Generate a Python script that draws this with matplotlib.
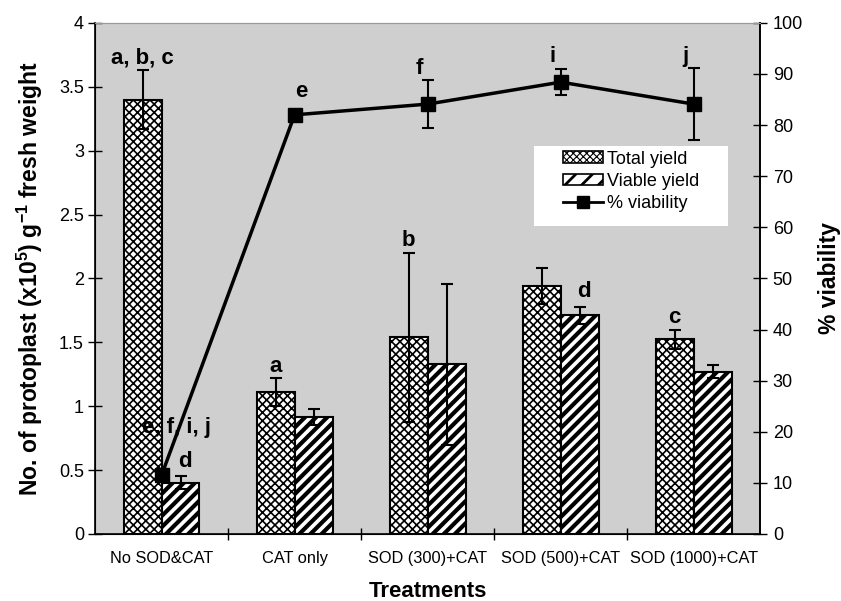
import numpy as np
import matplotlib
matplotlib.use("Agg")
import matplotlib.pyplot as plt
from matplotlib.patches import Patch, Rectangle
from matplotlib.lines import Line2D

plt.rcParams['font.family'] = ['Liberation Sans', 'DejaVu Sans']
plt.rcParams['mathtext.fontset'] = 'custom'
plt.rcParams['mathtext.rm'] = 'Liberation Sans'
plt.rcParams['mathtext.bf'] = 'Liberation Sans:bold'

treatments = ['No SOD&CAT', 'CAT only', 'SOD (300)+CAT', 'SOD (500)+CAT', 'SOD (1000)+CAT']
total_yield = [3.40, 1.11, 1.54, 1.94, 1.525]
total_err = [0.23, 0.11, 0.66, 0.14, 0.075]
viable_yield = [0.40, 0.915, 1.33, 1.71, 1.27]
viable_err = [0.05, 0.065, 0.63, 0.07, 0.05]
viability = [11.5, 82.0, 84.1, 88.4, 84.1]
viability_err = [0.3, 0.3, 4.7, 2.6, 7.0]
total_letters = ['a, b, c', 'a', 'b', '', 'c']
viable_letters = ['d', '', '', 'd', '']
viability_letters = ['', 'e', 'f', 'i', 'j']

x = np.arange(len(treatments))
w = 0.285

fig = plt.figure(figsize=(8.41, 6.01), dpi=100)
ax = fig.add_axes([0.113, 0.1115, 0.791, 0.8505])
ax.set_facecolor('#cfcfcf')

b1 = ax.bar(x - w/2, total_yield, w, color='white', edgecolor='black',
            hatch='xxxx', linewidth=1.5, zorder=2)
for p in b1:
    p.set_hatch_linewidth(1.2)
ax.errorbar(x - w/2, total_yield, yerr=total_err, fmt='none', ecolor='black',
            elinewidth=1.5, capsize=4, capthick=1.5, zorder=3)
b2 = ax.bar(x + w/2, viable_yield, w, color='white', edgecolor='black',
            hatch='///', linewidth=1.5, zorder=2)
for p in b2:
    p.set_hatch_linewidth(3.0)
ax.errorbar(x + w/2, viable_yield, yerr=viable_err, fmt='none', ecolor='black',
            elinewidth=1.5, capsize=4, capthick=1.5, zorder=3)

ax.set_xlim(-0.5, len(treatments) - 0.5)
ax.set_ylim(0, 4)
ax.set_yticks(np.arange(0, 4.01, 0.5))
ax.set_yticklabels(['0', '0.5', '1', '1.5', '2', '2.5', '3', '3.5', '4'])
ax.set_xticks(x)
ax.set_xticklabels(treatments, fontsize=11.8)
ax.set_xticks(np.arange(0.5, len(treatments) - 0.5), minor=True)
ax.tick_params(axis='x', which='major', length=0, pad=12)
ax.tick_params(axis='x', which='minor', direction='inout', length=9, width=1)
ax.tick_params(axis='y', direction='inout', length=10, width=1, labelsize=13, pad=3)
ax.spines['top'].set_color('#9a9a9a')
for s in ['left', 'bottom', 'right']:
    ax.spines[s].set_linewidth(1.2)

ax.set_ylabel(r'No. of protoplast (x10$^{\mathbf{5}}$) g$^{\mathbf{-1}}$ fresh weight',
              fontsize=16.5, fontweight='bold', labelpad=10)
ax.set_xlabel('Treatments', fontsize=16, fontweight='bold', labelpad=11)

ax2 = ax.twinx()
ax2.set_ylim(0, 100)
ax2.set_yticks(np.arange(0, 101, 10))
ax2.tick_params(axis='y', direction='inout', length=10, width=1, labelsize=13, pad=4)
ax2.spines['top'].set_color('#9a9a9a')
ax2.spines['right'].set_linewidth(1.2)
ax2.set_ylabel('% viability', fontsize=16.5, fontweight='bold', labelpad=11)
ax2.errorbar(x, viability, yerr=viability_err, fmt='none', ecolor='black',
             elinewidth=1.5, capsize=4, capthick=1.5, zorder=3)
ax2.plot(x, viability, color='black', linewidth=2.5, marker='s', markersize=10,
         zorder=4)

tfont = dict(fontsize=16, fontweight='bold', ha='center', va='bottom')
for i, t in enumerate(total_letters):
    if t:
        ax.annotate(t, (x[i] - w/2, total_yield[i] + total_err[i]),
                    xytext=(0, 1), textcoords='offset points', **tfont)
for i, t in enumerate(viable_letters):
    if t:
        ax.annotate(t, (x[i] + w/2, viable_yield[i] + viable_err[i]),
                    xytext=(3, 3), textcoords='offset points', **tfont)
for i, t in enumerate(viability_letters):
    if t:
        ax2.annotate(t, (x[i], viability[i] + viability_err[i]),
                     xytext=(-6 if i > 1 else 5, 1 if i > 1 else 8),
                     textcoords='offset points', **tfont)
ax2.annotate('e, f, i, j', (x[0], viability[0]), xytext=(11, 27),
             textcoords='offset points', **tfont)

# white legend box
ax2.add_patch(Rectangle((0.660, 0.603), 0.292, 0.156, transform=ax2.transAxes,
                        facecolor='white', edgecolor='none', zorder=5))
handles = [Patch(facecolor='white', edgecolor='black', hatch='xxxxx', linewidth=1.2),
           Patch(facecolor='white', edgecolor='black', hatch='//', linewidth=1.2),
           Line2D([], [], color='black', linewidth=2, marker='s', markersize=9)]
leg = ax2.legend(handles, ['Total yield', 'Viable yield', '% viability'],
                 loc='upper left', bbox_to_anchor=(0.697, 0.759), fontsize=13,
                 frameon=False, handlelength=2.2, handleheight=0.6,
                 handletextpad=0.2, labelspacing=0.3, borderpad=0.25,
                 borderaxespad=0)
leg.set_zorder(6)
for h in leg.legend_handles[:2]:
    h.set_hatch_linewidth(2.0 if h.get_hatch() == '//' else 0.8)

fig.savefig('out.png', dpi=100)
